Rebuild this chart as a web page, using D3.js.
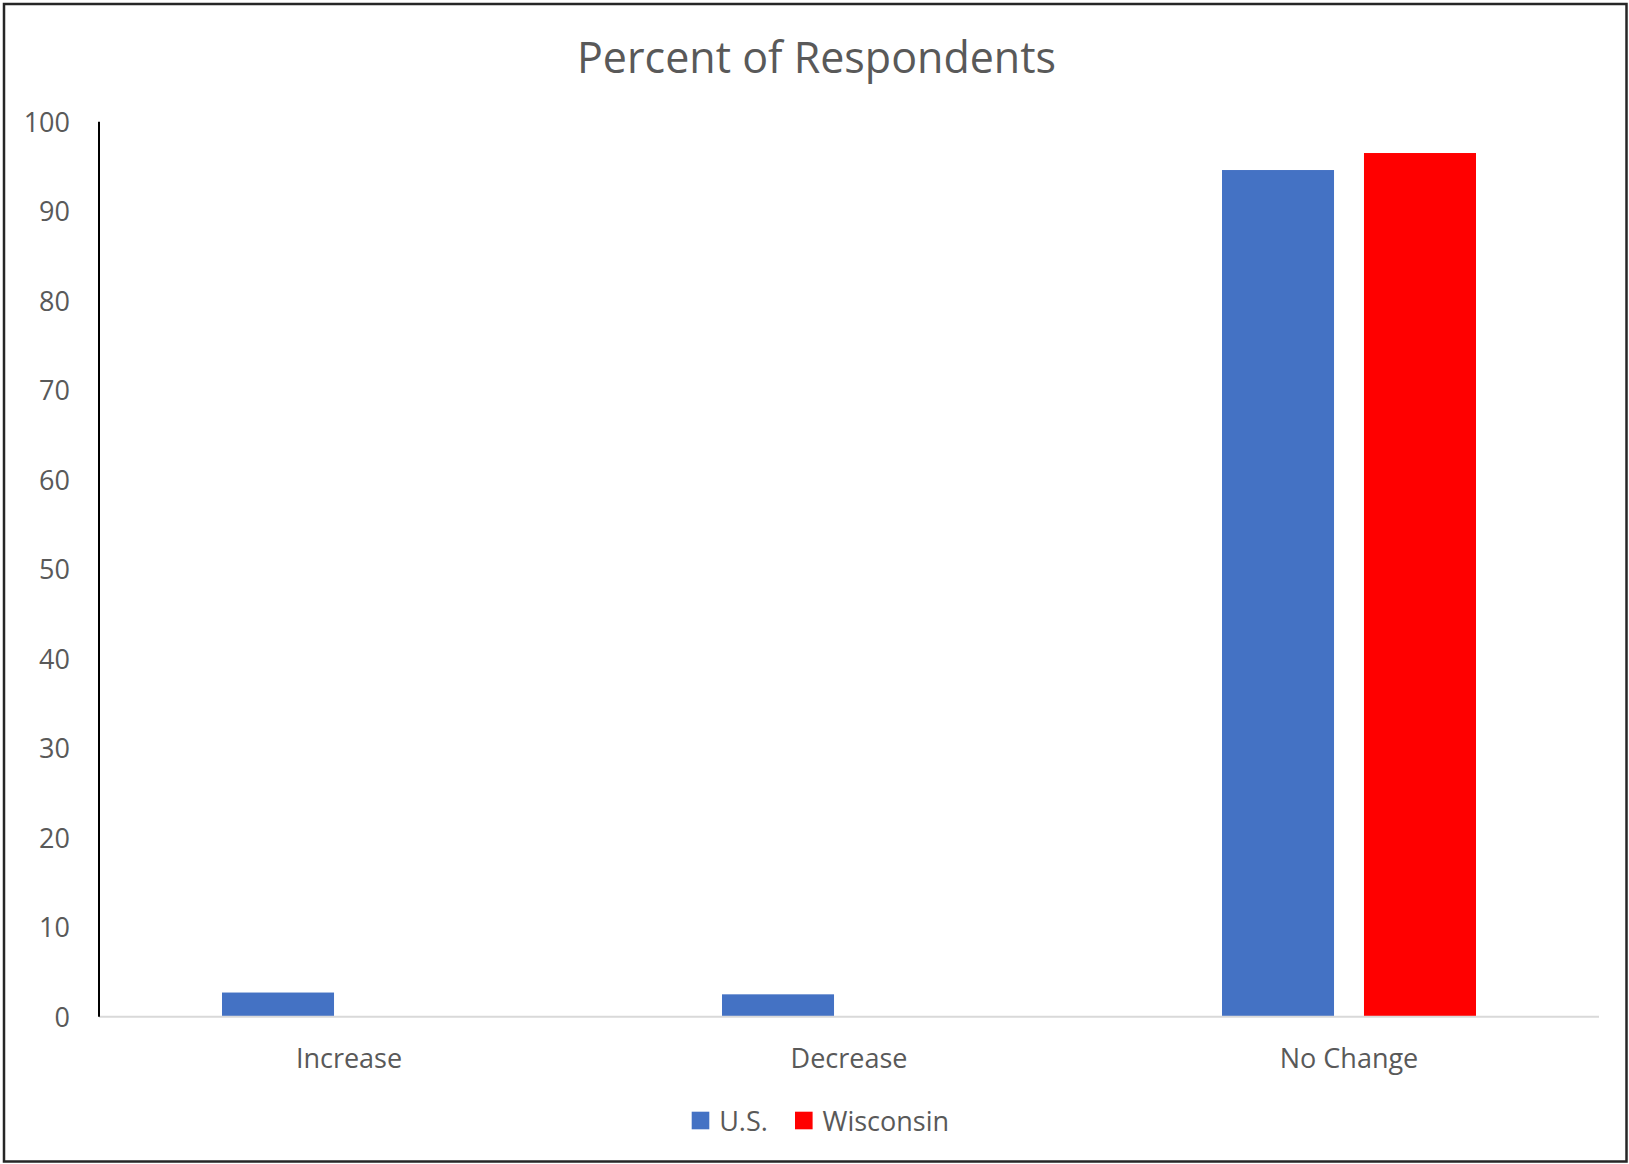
<!DOCTYPE html>
<html>
<head>
<meta charset="utf-8">
<script src="https://cdn.jsdelivr.net/npm/d3@7"></script>
<style>
  html, body { margin: 0; padding: 0; background: #fff; }
  svg { display: block; }
  text { font-family: "Open Sans", sans-serif; fill: #595959; }
</style>
</head>
<body>
<script>
const categories = ["Increase", "Decrease", "No Change"];
const seriesNames = ["U.S.", "Wisconsin"];
const usValues = [2.7, 2.5, 94.6];
const wisconsinValues = [0, 0, 96.5];
const seriesColors = ["#4472C4", "#FF0000"];
const yTicks = [0, 10, 20, 30, 40, 50, 60, 70, 80, 90, 100];
const chartTitle = "Percent of Respondents";

const W = 1629, H = 1164;
const plot = { left: 99, right: 1599, top: 121.7, bottom: 1016.7 };

const svg = d3.select("body").append("svg").attr("width", W).attr("height", H);

// outer frame
svg.append("rect").attr("x", 4).attr("y", 4).attr("width", W - 6.5).attr("height", H - 6.5)
  .attr("fill", "#fff").attr("stroke", "#262626").attr("stroke-width", 2.5);

const x0 = d3.scaleBand().domain(categories).range([plot.left, plot.right])
  .paddingInner(0.492).paddingOuter(0.246);
const x1 = d3.scaleBand().domain(seriesNames).range([0, x0.bandwidth()])
  .paddingInner(0.211).paddingOuter(0);
const y = d3.scaleLinear().domain([0, 100]).range([plot.bottom, plot.top]);

// title
svg.append("text").attr("x", W / 2 + 2).attr("y", 73).attr("text-anchor", "middle")
  .style("font-size", "43px").text(chartTitle);

// y axis labels
const yAxis = d3.axisLeft(y).tickValues(yTicks).tickSize(0).tickPadding(29).tickFormat(d3.format("d"));
const yg = svg.append("g").attr("transform", `translate(${plot.left},0)`).call(yAxis);
yg.select(".domain").remove();
yg.selectAll("text").style("font-size", "27px").attr("fill", "#595959")
  .style("font-family", "'Open Sans', sans-serif").attr("dy", "0.36em");

// bars
const data = categories.map((c, i) => ({ cat: c, vals: [usValues[i], wisconsinValues[i]] }));
const groups = svg.append("g").selectAll("g").data(data).join("g")
  .attr("transform", d => `translate(${x0(d.cat)},0)`);
groups.selectAll("rect").data(d => d.vals.map((v, j) => ({ s: seriesNames[j], v, c: seriesColors[j] })))
  .join("rect")
  .attr("x", d => x1(d.s)).attr("width", x1.bandwidth())
  .attr("y", d => y(d.v)).attr("height", d => y(0) - y(d.v))
  .attr("fill", d => d.c);

// baseline
svg.append("line").attr("x1", plot.left).attr("x2", plot.right)
  .attr("y1", y(0)).attr("y2", y(0)).attr("stroke", "#d9d9d9").attr("stroke-width", 2);

// y axis line
svg.append("line").attr("x1", plot.left).attr("x2", plot.left)
  .attr("y1", plot.top).attr("y2", y(0)).attr("stroke", "#000").attr("stroke-width", 2);

// x axis labels
const xAxis = d3.axisBottom(x0.copy().paddingInner(0).paddingOuter(0)).tickSize(0).tickPadding(0);
const xg = svg.append("g").attr("transform", `translate(0,${y(0)})`).call(xAxis);
xg.select(".domain").remove();
xg.selectAll("text").style("font-size", "27px").attr("fill", "#595959")
  .style("font-family", "'Open Sans', sans-serif").attr("y", 51).attr("dy", 0);

// legend
const legendItems = [
  { name: seriesNames[0], color: seriesColors[0], x: 691.7 },
  { name: seriesNames[1], color: seriesColors[1], x: 795 }
];
const lg = svg.append("g");
legendItems.forEach(it => {
  lg.append("rect").attr("x", it.x).attr("y", 1111.7).attr("width", 17.6).attr("height", 17.6).attr("fill", it.color);
  lg.append("text").attr("x", it.x + 27.5).attr("y", 1130.5).style("font-size", "27px").text(it.name);
});
</script>
</body>
</html>
